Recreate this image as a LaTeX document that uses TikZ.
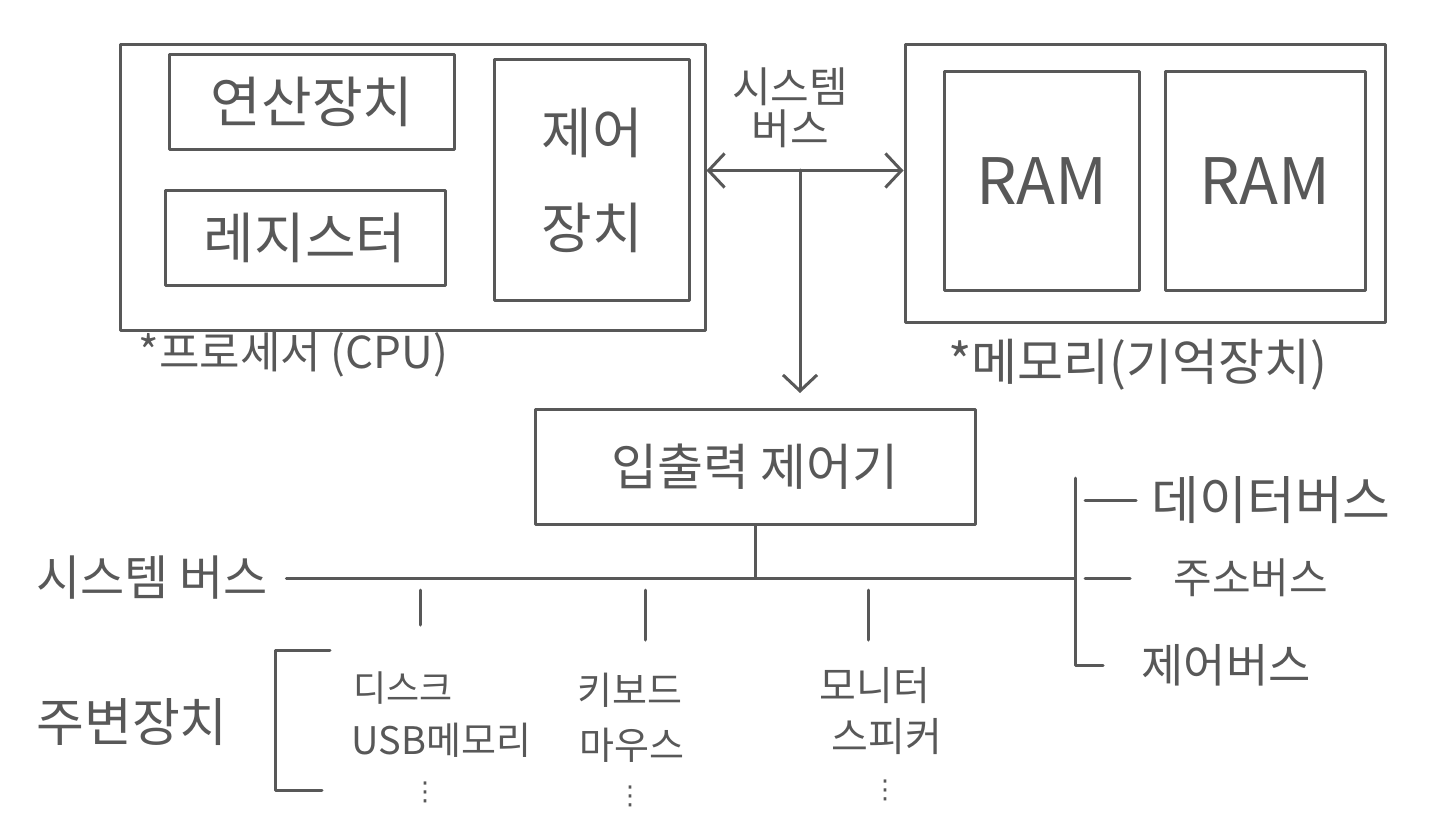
\documentclass[tikz,border=0pt]{standalone}
\usepackage{fontspec}
\newfontfamily\kr{Noto Sans CJK KR}
\newfontfamily\sym{DejaVu Sans}
\usetikzlibrary{positioning,arrows.meta}
\definecolor{pencil}{HTML}{585858}
\begin{document}
\begin{tikzpicture}[x=1pt,y=-1pt,>={Straight Barb[length=16pt,width=34pt]},
  line width=3pt,color=pencil,line cap=round,line join=round,
  hand/.style={font=\kr\fontsize{#1}{#1}\selectfont,inner sep=2pt},
  more/.style={font=\sym\fontsize{26}{26}\selectfont,inner sep=0pt},
  unit box/.style={draw,rectangle,inner sep=0pt}]

  \useasboundingbox (0,0) rectangle (1440,816);

  % processor
  \node[unit box,minimum width=585,minimum height=285] (cpu) at (412.5,187.5) {};
  \node[unit box,minimum width=285,minimum height=95,hand=55] (alu) at (312,102) {연산장치};
  \node[unit box,minimum width=280,minimum height=95,hand=55] (reg) at (305,238) {레지스터};
  \node[unit box,minimum width=195,minimum height=240,align=center,hand=55] (cu) at (592,180) {제어\\[40pt]장치};
  \node[hand=44,anchor=west] (cpulbl) at (135,355) {*프로세서 (CPU)};

  % memory
  \node[unit box,minimum width=480,minimum height=277] (mem) at (1145,183.5) {};
  \node[unit box,minimum width=195,minimum height=218,hand=64] (ram1) at (1042,181) {RAM};
  \node[unit box,minimum width=200,minimum height=218,hand=64] (ram2) at (1265,181) {RAM};
  \node[hand=50,anchor=west] (memlbl) at (945,365) {*메모리(기억장치)};

  % system bus between them
  \node[hand=42,align=center] (topbus) at (790,108) {시스템\\버스};
  \draw[<->] ([yshift=17]cpu.east) -- ([yshift=17]cpu.east -| mem.west);
  \coordinate (tap) at (800,170);
  \node[unit box,minimum width=440,minimum height=115,hand=50] (ioc) at (755,467) {입출력 제어기};
  \draw[->] (tap) -- ([yshift=15]tap |- ioc.north);

  % system bus line
  \node[hand=48] (bus) at (152,578) {시스템 버스};
  \coordinate (busR) at (1075,578);
  \draw ([xshift=15]bus.east) -- (busR);
  \draw (ioc.south) -- (ioc.south |- busR);

  \node[hand=52,anchor=west] (dbus) at (1148,500) {데이터버스};
  \node[hand=42,anchor=west] (abus) at (1170,578) {주소버스};
  \node[hand=46,anchor=west] (cbus) at (1138,665) {제어버스};
  \draw ([yshift=100]busR) -- (busR |- cbus.west) -- ([xshift=-35]cbus.west);
  \draw ([xshift=10]busR |- dbus.west) -- ([xshift=-12]dbus.west);
  \draw ([xshift=10]busR) -- ([xshift=-40]abus.west);

  % peripherals
  \node[hand=52] (periph) at (132,722) {주변장치};
  \draw (330,650) -| (275,790) -- (322,790);

  \node[hand=36,anchor=west] (disk) at (350,688) {디스크};
  \node[hand=38,anchor=west] (usb) at (348,740) {USB메모리};
  \node[more] (dots1) at (425,792) {⋮};
  \node[hand=38] (kbd) at (630,690) {키보드};
  \node[hand=38] (mouse) at (632,745) {마우스};
  \node[more] (dots2) at (630,796) {⋮};
  \node[hand=40] (mon) at (875,686) {모니터};
  \node[hand=40] (spk) at (887,737) {스피커};
  \node[more] (dots3) at (885,790) {⋮};

  \coordinate (drop1) at (420,625);
  \coordinate (drop2) at (645,640);
  \coordinate (drop3) at (868,640);
  \foreach \d in {drop1,drop2,drop3}
    \draw ([yshift=-12]\d |- busR) -- (\d);
\end{tikzpicture}
\end{document}
